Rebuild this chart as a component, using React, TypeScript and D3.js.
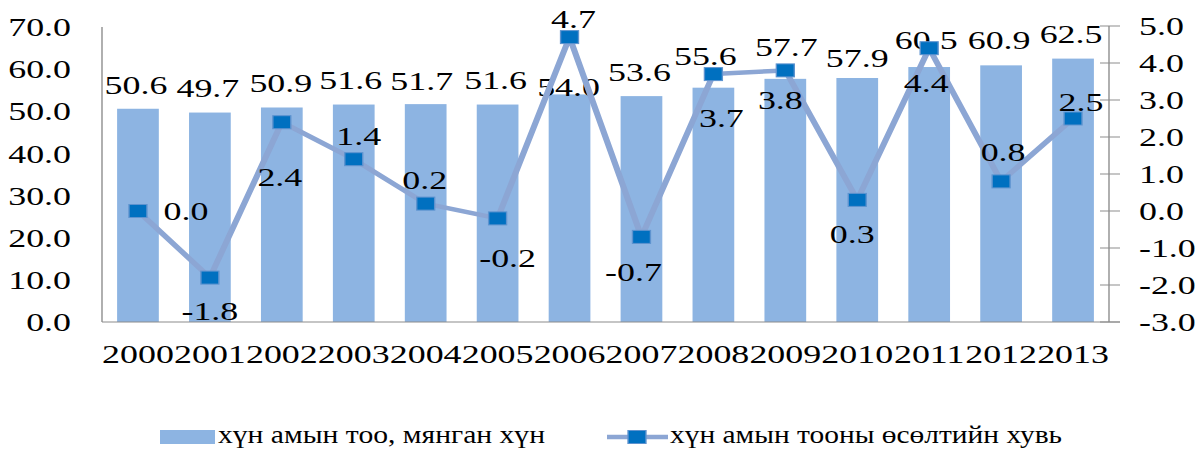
import * as d3 from "d3";
import React from "react";

// chart data
const years = ["2000", "2001", "2002", "2003", "2004", "2005", "2006", "2007", "2008", "2009", "2010", "2011", "2012", "2013"];
const population = [50.6, 49.7, 50.9, 51.6, 51.7, 51.6, 54.0, 53.6, 55.6, 57.7, 57.9, 60.5, 60.9, 62.5];
const growth = [0.0, -1.8, 2.4, 1.4, 0.2, -0.2, 4.7, -0.7, 3.7, 3.8, 0.3, 4.4, 0.8, 2.5];
const leftTicks = [0, 10, 20, 30, 40, 50, 60, 70];
const rightTicks = [-3, -2, -1, 0, 1, 2, 3, 4, 5];
const seriesNames = ["хүн амын тоо, мянган хүн", "хүн амын тооны өсөлтийн хувь"];

// label nudges (screen px) as placed in the original
const barLabelShift = [[-2, -24], [-2, -25], [-1, -25], [-3, -25], [-4, -23], [-2, -25], [-1, -8], [-2, -24], [-8, -32], [1, -32], [0, -20], [-3, -27], [-2, -25], [-2, -25]];
const lineLabelShift = [[48, 0], [0, 33], [-2, 55], [5, -23], [-1, -24], [10, 40], [4, -18], [-8, 35], [8, 44], [-5, 30], [-5, 34], [-3, 35], [2, -29], [8, -17]];

const SX = 1.38; // the original picture is stretched horizontally
const lx = (px: number) => px / SX;

const W = 1195;
const H = 450;
const left = 102;
const right = 1109;
const bottom = 322;
const legendY = 437;

const FONT = "'Liberation Serif', 'Times New Roman', serif";
const BAR = "#8DB4E2";
const LINE = "#8CA6D4";
const MARK = "#0070C0";
const AXIS = "#8C8C8C";

export default function App() {
  const x = d3.scaleBand<string>().domain(years).range([lx(left), lx(right)]).paddingInner(0.42).paddingOuter(0.21);
  const yL = d3.scaleLinear().domain([0, 70]).range([bottom, 27]);
  const yR = d3.scaleLinear().domain([-3, 5]).range([bottom, 26]);
  const cx = (y: string) => (x(y) as number) + x.bandwidth() / 2;

  const line = d3
    .line<number>()
    .x((_, i) => cx(years[i]))
    .y((d) => yR(d));

  const ms = 13;

  return (
    <svg width={W} height={H} style={{ position: "absolute", left: 0, top: 0, background: "#fff" }} fontFamily={FONT}>
      <g transform={`scale(${SX},1)`}>
        {/* bars */}
        {population.map((v, i) => (
          <rect key={years[i]} x={x(years[i])} y={yL(v)} width={x.bandwidth()} height={yL(0) - yL(v)} fill={BAR} />
        ))}

        {/* axes */}
        <line x1={lx(left)} x2={lx(left)} y1={27} y2={bottom} stroke={AXIS} strokeWidth={1} />
        <line x1={lx(left)} x2={lx(1120)} y1={bottom} y2={bottom} stroke={AXIS} strokeWidth={1} />
        <line x1={lx(right)} x2={lx(right)} y1={26} y2={bottom} stroke={AXIS} strokeWidth={1} />
        {rightTicks.map((t) => (
          <line key={t} x1={lx(1100)} x2={lx(1120)} y1={yR(t)} y2={yR(t)} stroke={AXIS} strokeWidth={1} />
        ))}

        {leftTicks.map((t) => (
          <text key={t} x={lx(71)} y={yL(t)} dy="0.35em" textAnchor="end" fontSize={26} fill="#000">
            {t.toFixed(1)}
          </text>
        ))}
        {rightTicks.map((t) => (
          <text key={t} x={lx(1139)} y={yR(t)} dy="0.35em" textAnchor="start" fontSize={26} fill="#000">
            {t.toFixed(1)}
          </text>
        ))}
        {years.map((y) => (
          <text key={y} x={cx(y)} y={363} textAnchor="middle" fontSize={26} fill="#000">
            {y}
          </text>
        ))}

        {/* bar labels */}
        {population.map((v, i) => (
          <text
            key={years[i]}
            x={cx(years[i]) + lx(barLabelShift[i][0])}
            y={yL(v) + barLabelShift[i][1]}
            dy="0.35em"
            textAnchor="middle"
            fontSize={26}
            fill="#000"
          >
            {v.toFixed(1)}
          </text>
        ))}

        {/* growth line */}
        <path d={line(growth) as string} fill="none" stroke={LINE} strokeWidth={4.5} strokeLinejoin="round" />
        {growth.map((v, i) => (
          <rect
            key={years[i]}
            x={cx(years[i]) - ms / 2}
            y={yR(v) - ms / 2}
            width={ms}
            height={ms}
            fill={MARK}
            stroke="#5E93CF"
            strokeWidth={1}
          />
        ))}
        {growth.map((v, i) => (
          <text
            key={years[i]}
            x={cx(years[i]) + lx(lineLabelShift[i][0])}
            y={yR(v) + lineLabelShift[i][1]}
            dy="0.35em"
            textAnchor="middle"
            fontSize={26}
            fill="#000"
          >
            {v.toFixed(1)}
          </text>
        ))}

        {/* legend */}
        <rect x={lx(160)} y={legendY - 7} width={lx(55)} height={14} fill={BAR} />
        <text x={lx(218)} y={legendY + 6} fontSize={26} fill="#000" textLength={lx(327)} lengthAdjust="spacingAndGlyphs">
          {seriesNames[0]}
        </text>
        <line x1={lx(607)} x2={lx(668)} y1={legendY} y2={legendY} stroke={LINE} strokeWidth={4.5} />
        <rect x={lx(637) - ms / 2} y={legendY - ms / 2} width={ms} height={ms} fill={MARK} stroke="#5E93CF" strokeWidth={1} />
        <text x={lx(670)} y={legendY + 6} fontSize={26} fill="#000" textLength={lx(392)} lengthAdjust="spacingAndGlyphs">
          {seriesNames[1]}
        </text>
      </g>
    </svg>
  );
}
